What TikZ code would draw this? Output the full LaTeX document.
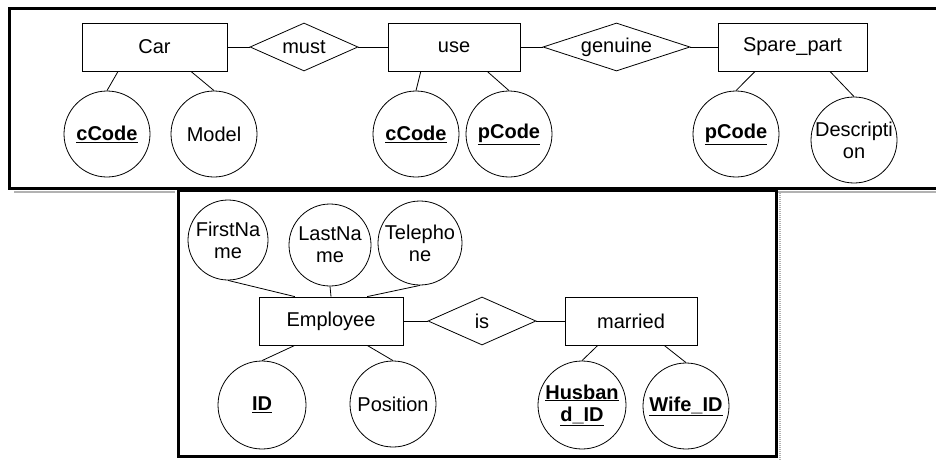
\documentclass[tikz,border=0pt]{standalone}
\usepackage{fontspec}
\setmainfont{Liberation Sans}
\usetikzlibrary{shapes.geometric, calc}
\tikzset{
  entity/.style={rectangle,draw,line width=0.8pt,minimum height=48pt,inner sep=2pt},
  relship/.style={diamond,draw,line width=0.8pt,aspect=3,inner sep=0pt,minimum height=48pt},
  attr/.style={circle,draw,line width=0.8pt,inner sep=0pt,minimum size=86pt,align=center},
  line/.style={line width=0.8pt},
  frame/.style={line width=3pt},
  shadow line/.style={line width=2pt,gray!60}
}
\newcommand{\keyattr}[1]{\textbf{\underline{#1}}}

\begin{document}
\begin{tikzpicture}[x=1pt,y=-1pt,font=\fontsize{20}{22}\selectfont]
\useasboundingbox (0,0) rectangle (936,460);
% frames
\draw[frame] (945,9) -- (9,9) -- (9,188) -- (945,188);
\draw[frame] (178,190) rectangle (776,456);
\draw[shadow line] (14,192) -- (175,192);
\draw[shadow line] (778,192) -- (936,192);
\draw[shadow line, dash pattern=on 1pt off 1pt] (780,193) -- (780,460);

% car / spare part
\node[entity, minimum width=145pt] (car) at (154.5,47) {Car};
\node[relship, minimum width=108pt] (must) at (304,47) {must};
\node[entity, minimum width=132pt] (use) at (454,47) {use};
\node[relship, minimum width=147pt] (genuine) at (616.5,47) {genuine};
\node[entity, minimum width=149pt] (spare) at (792.5,47) {Spare\_part};
\node[attr] (ccode) at (107,134) {\keyattr{cCode}};
\node[attr] (model) at (214,134) {Model};
\node[attr] (useccode) at (416,134) {\keyattr{cCode}};
\node[attr] (usepcode) at (509,134) {\keyattr{pCode}};
\node[attr] (pcode) at (736,134) {\keyattr{pCode}};
\node[attr] (descr) at (854,140) {Descripti\\on};
\draw[line] (car) -- (must);
\draw[line] (must) -- (use);
\draw[line] (use) -- (genuine);
\draw[line] (genuine) -- (spare);
\draw[line] ($(car.south west)!.25!(car.south east)$) -- (ccode.north);
\draw[line] ($(car.south west)!.75!(car.south east)$) -- (model.north);
\draw[line] ($(use.south west)!.25!(use.south east)$) -- (useccode.north);
\draw[line] ($(use.south west)!.75!(use.south east)$) -- (usepcode.north);
\draw[line] ($(spare.south west)!.25!(spare.south east)$) -- (pcode.north);
\draw[line] ($(spare.south west)!.75!(spare.south east)$) -- (descr.north);

% employee
\node[entity, minimum width=144pt] (employee) at (331,321) {Employee};
\node[relship, minimum width=108pt] (is) at (482,321) {is};
\node[entity, minimum width=132pt] (married) at (631,321) {married};
\node[attr, minimum size=80pt] (firstname) at (228,240) {FirstNa\\me};
\node[attr, minimum size=82pt] (lastname) at (330,245) {LastNa\\me};
\node[attr, minimum size=84pt] (telephone) at (420,243) {Telepho\\ne};
\node[attr, minimum size=88pt] (id) at (262,405) {\keyattr{ID}};
\node[attr] (position) at (393,404) {Position};
\node[attr, minimum size=88pt] (husband) at (582,405) {\keyattr{Husban}\\\keyattr{d\_ID}};
\node[attr] (wife) at (686,406) {\keyattr{Wife\_ID}};
\draw[line] (employee) -- (is);
\draw[line] (is) -- (married);
\draw[line] (firstname.south) -- ($(employee.north west)!.25!(employee.north east)$);
\draw[line] (lastname.south) -- (employee.north);
\draw[line] (telephone.south) -- ($(employee.north west)!.75!(employee.north east)$);
\draw[line] ($(employee.south west)!.25!(employee.south east)$) -- (id.north);
\draw[line] ($(employee.south west)!.75!(employee.south east)$) -- (position.north);
\draw[line] ($(married.south west)!.25!(married.south east)$) -- (husband.north);
\draw[line] ($(married.south west)!.75!(married.south east)$) -- (wife.north);
\end{tikzpicture}
\end{document}
